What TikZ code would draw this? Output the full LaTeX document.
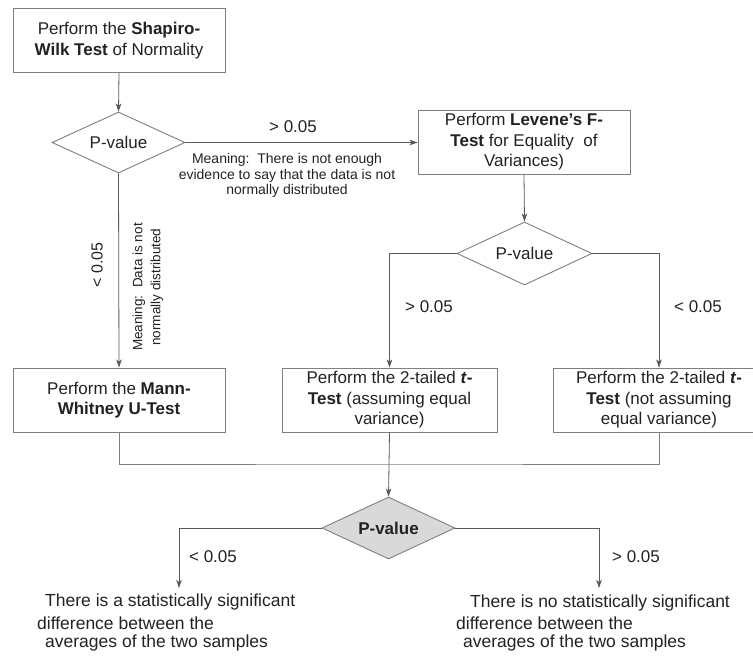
\documentclass[tikz,border=0pt]{standalone}
\usepackage{fontspec}
\setmainfont{Liberation Sans}
\usetikzlibrary{shapes.geometric,arrows.meta}
\definecolor{ink}{HTML}{222222}
\definecolor{edge}{HTML}{7F7F7F}
\definecolor{wire}{HTML}{5A5A5A}
\definecolor{decfill}{HTML}{D9D9D9}
\tikzset{
  procbox/.style={draw=edge, line width=0.9pt, rectangle, minimum width=212pt, minimum height=64pt,
    inner sep=0pt, align=center, text=ink, font=\fontsize{17}{20.5}\selectfont},
  decision/.style={draw=edge, line width=0.9pt, diamond, inner sep=0pt, aspect=2.2,
    text=ink, font=\fontsize{17}{20}\selectfont},
  flow/.style={draw=wire, line width=0.8pt, -{Stealth[length=8pt,width=5.5pt,inset=2pt]}},
  bus/.style={draw=edge, line width=0.9pt},
  lbl/.style={text=ink, inner sep=0pt, font=\fontsize{17}{20}\selectfont},
  note/.style={text=ink, inner sep=0pt, align=center, font=\fontsize{14}{15.5}\selectfont},
  outcome/.style={text=ink, inner sep=0pt, anchor=west, font=\fontsize{17.5}{20}\selectfont},
}
\begin{document}
\begin{tikzpicture}[x=1pt, y=-1pt]
\useasboundingbox (0,0) rectangle (753,662);

% process boxes
\node[procbox] (shapiro) at (119,40.5) {Perform the \textbf{Shapiro-}\\\textbf{Wilk Test} of Normality};
\node[procbox] (levene) at (524,142) {Perform \textbf{Levene's F-}\\\textbf{Test} for Equality\ \ of\\Variances)};
\node[procbox] (mann) at (119,400) {Perform the \textbf{Mann-}\\\textbf{Whitney U-Test}};
\node[procbox, minimum width=215pt] (teq) at (389.5,400) {Perform the 2-tailed \textbf{\textit{t}-}\\\textbf{Test} (assuming equal\\variance)};
\node[procbox] (tneq) at (659,400) {Perform the 2-tailed \textbf{\textit{t}-}\\\textbf{Test} (not assuming\\equal variance)};

% decisions
\node[decision, minimum width=133pt, minimum height=61pt] (pv1) at (118.5,142.5) {P-value};
\node[decision, minimum width=135pt, minimum height=63pt] (pv2) at (524.5,253.5) {P-value};
\node[decision, fill=decfill, minimum width=133pt, minimum height=62pt, font=\fontsize{17}{20}\selectfont\bfseries] (pv3) at (388.5,528) {P-value};

% junction points
\coordinate (join) at (389,464);
\coordinate (sig) at (179,588);
\coordinate (nosig) at (599,588);

% connectors
\draw[flow] (shapiro.south) -- (pv1.north);
\draw[flow] (pv1.east) -- (pv1.east -| levene.west);
\draw[flow] (pv1.south) -- (mann.north);
\draw[flow] (levene.south) -- (pv2.north);
\draw[flow] (pv2.west) -| (teq.north);
\draw[flow] (pv2.east) -| (tneq.north);
\draw[bus] (mann.south) |- (join) -| (tneq.south);
\draw[flow] (teq.south) -- (pv3.north);
\draw[flow] (pv3.west) -| (sig);
\draw[flow] (pv3.east) -| (nosig);

% branch labels
\node[lbl] (g1) at (293,127) {> 0.05};
\node[note] (m1) at (287,175.5) {Meaning:\ \ There is not enough\\evidence to say that the data is not\\normally distributed};
\node[lbl, rotate=90, font=\fontsize{16}{19}\selectfont] (l1) at (97,265) {< 0.05};
\node[note, rotate=90, font=\fontsize{13.5}{18}\selectfont] (m2) at (148,287) {Meaning:\ \ Data is not\\normally distributed};
\node[lbl] (g2) at (429,307) {> 0.05};
\node[lbl] (l2) at (698,307) {< 0.05};
\node[lbl] (l3) at (213,557) {< 0.05};
\node[lbl] (g3) at (636,557) {> 0.05};

% conclusions
\node[outcome] (s1) at (45,602) {There is a statistically significant};
\node[outcome] (s2) at (37,623) {difference between the};
\node[outcome] (s3) at (45,643) {averages of the two samples};
\node[outcome] (n1) at (470,603) {There is no statistically significant};
\node[outcome] (n2) at (456,623) {difference between the};
\node[outcome] (n3) at (463,643) {averages of the two samples};
\end{tikzpicture}
\end{document}
